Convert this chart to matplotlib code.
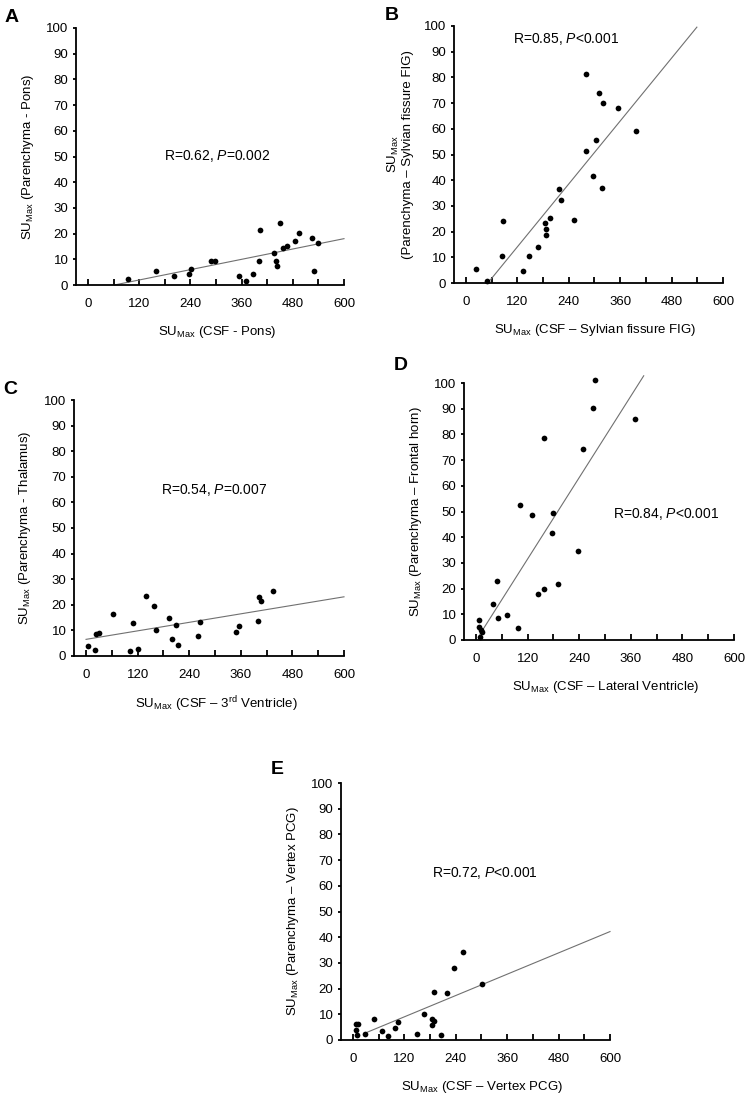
import numpy as np
import matplotlib
matplotlib.use('Agg')
import matplotlib.pyplot as plt

plt.rcParams['font.family'] = ['Liberation Sans', 'DejaVu Sans']
plt.rcParams['mathtext.fontset'] = 'custom'
plt.rcParams['mathtext.rm'] = 'Liberation Sans'
plt.rcParams['mathtext.it'] = 'Liberation Sans:italic'

# -----------------------------------------------------------------------
# Datos (x = SUMax CSF, y = SUMax parenquima)
# -----------------------------------------------------------------------
a_x = [93, 160, 202, 236, 241, 288, 298, 354, 370, 386, 401, 404, 437, 440,
       444, 449, 457, 467, 485, 495, 526, 530, 540]
a_y = [2.5, 5.5, 3.5, 4.4, 6.4, 9.4, 9.4, 3.4, 1.4, 4.4, 9.4, 21.3, 12.3, 9.4,
       7.4, 24.3, 14.3, 15.3, 17.3, 20.3, 18.3, 5.5, 16.4]

b_x = [23, 48, 84, 87, 134, 148, 168, 185, 187, 187, 195, 218, 222, 251,
       279, 280, 297, 303, 310, 318, 319, 356, 398]
b_y = [5.4, 0.8, 10.4, 24.3, 4.5, 10.4, 13.9, 23.3, 21.1, 18.7, 25.2, 36.6,
       32.2, 24.6, 51.4, 81.5, 41.5, 55.8, 74.1, 37.1, 70.0, 68.1, 59.3]

c_x = [5, 22, 24, 29, 62, 103, 109, 121, 139, 157, 163, 192, 201, 210, 214,
       260, 266, 349, 355, 400, 402, 406, 434]
c_y = [3.8, 2.3, 8.5, 9.0, 16.3, 1.8, 12.9, 2.9, 23.4, 19.4, 10.3, 14.8, 6.8,
       12.2, 4.3, 7.8, 13.3, 9.2, 11.8, 13.8, 22.9, 21.4, 25.4]

d_x = [7, 8, 11, 15, 10, 39, 50, 49, 72, 97, 102, 131, 145, 158, 159, 177,
       179, 191, 237, 249, 272, 276, 370]
d_y = [7.7, 4.9, 4.0, 3.2, 1.2, 13.9, 8.4, 23.1, 9.6, 4.7, 52.7, 48.8, 17.8,
       19.7, 78.7, 41.5, 49.3, 21.7, 34.8, 74.4, 90.4, 101.0, 86.1]

e_x = [6, 12, 8, 10, 27, 48, 67, 81, 98, 104, 150, 166, 184, 184, 188, 190,
       206, 220, 235, 257, 302]
e_y = [6.4, 6.4, 3.8, 1.8, 2.3, 8.3, 3.4, 1.4, 4.8, 6.9, 2.3, 10.2, 8.3, 5.8,
       7.4, 18.7, 1.8, 18.2, 28.1, 34.1, 21.7]

# recta de regresion: (pendiente, intercepto) y tramo en x
a_fit, a_span = (0.0335, -2.07), (62, 600)
b_fit, b_span = (0.204, -10.4), (57, 539)
c_fit, c_span = (0.0277, 6.5), (0, 600)
d_fit, d_span = (0.264, -0.15), (9, 390)
e_fit, e_span = (0.0691, 0.73), (27, 600)

stats = ['R=0.62, $\\mathit{P}$=0.002', 'R=0.85, $\\mathit{P}$<0.001',
         'R=0.54, $\\mathit{P}$=0.007', 'R=0.84, $\\mathit{P}$<0.001',
         'R=0.72, $\\mathit{P}$<0.001']
stat_pos = [(303, 50), (233, 95), (299, 65), (441, 49), (307, 65)]

xlabels = ['SU$_{\\mathregular{Max}}$ (CSF - Pons)',
           'SU$_{\\mathregular{Max}}$ (CSF \u2013 Sylvian fissure FIG)',
           'SU$_{\\mathregular{Max}}$ (CSF \u2013 3$^{\\mathregular{rd}}$ Ventricle)',
           'SU$_{\\mathregular{Max}}$ (CSF \u2013 Lateral Ventricle)',
           'SU$_{\\mathregular{Max}}$ (CSF \u2013 Vertex PCG)']
ylabels = ['SU$_{\\mathregular{Max}}$ (Parenchyma - Pons)',
           'SU$_{\\mathregular{Max}}$\n(Parenchyma \u2013 Sylvian fissure FIG)',
           'SU$_{\\mathregular{Max}}$ (Parenchyma - Thalamus)',
           'SU$_{\\mathregular{Max}}$ (Parenchyma \u2013 Frontal horn)',
           'SU$_{\\mathregular{Max}}$ (Parenchyma \u2013 Vertex PCG)']
letters = ['A', 'B', 'C', 'D', 'E']

# -----------------------------------------------------------------------
# Figura (posiciones en pixeles: izquierda, arriba, derecha, abajo)
# -----------------------------------------------------------------------
W, H = 748, 1097
fig = plt.figure(figsize=(W / 100, H / 100), dpi=100)

boxes = [(76, 28, 344, 285), (454, 26, 723, 283), (74, 400, 344, 656),
         (464, 383, 734, 640), (341, 783, 610, 1040)]
letter_pos = [(12, 17), (392, 15), (10, 390), (401, 365), (277, 770)]

panels = [(a_x, a_y, a_fit, a_span), (b_x, b_y, b_fit, b_span),
          (c_x, c_y, c_fit, c_span), (d_x, d_y, d_fit, d_span),
          (e_x, e_y, e_fit, e_span)]

for i, (xs, ys, fit, span) in enumerate(panels):
    l, t, r, b = boxes[i]
    ax = fig.add_axes([l / W, 1 - b / H, (r - l) / W, (b - t) / H])

    lx = np.array(span, dtype=float)
    ax.plot(lx, fit[0] * lx + fit[1], color='#707070', lw=0.8, clip_on=False)
    ax.scatter(xs, ys, s=17, color='black', zorder=3, clip_on=False, linewidths=0)

    ax.set_xlim(-28, 600)
    ax.set_ylim(0, 100)
    ax.set_xticks(np.arange(0, 601, 120))
    ax.set_xticks(np.arange(0, 601, 60), minor=True)
    ax.set_yticks(np.arange(0, 101, 10))

    for s in ['top', 'right']:
        ax.spines[s].set_visible(False)
    for s in ['left', 'bottom']:
        ax.spines[s].set_linewidth(1.3)

    ax.tick_params(axis='x', which='both', direction='in', length=4.5, width=1.3,
                   pad=9.5, labelsize=9.5)
    ax.tick_params(axis='y', direction='out', length=2.5, width=1.3, pad=3,
                   labelsize=9.5)

    ax.set_xlabel(xlabels[i], fontsize=9.5)
    ax.xaxis.set_label_coords(0.5 + 14 / (r - l) / 2, -0.15)
    ax.set_ylabel(ylabels[i], fontsize=9.5, linespacing=1.1)
    ax.yaxis.set_label_coords(-0.15, 0.5)

    sx, sy = stat_pos[i]
    ax.text(sx, sy, stats[i], ha='center', va='center', fontsize=10)

    px, py = letter_pos[i]
    fig.text(px / W, 1 - py / H, letters[i], ha='center', va='center',
             fontsize=14, fontweight='bold')

fig.savefig('out.png', dpi=100)
